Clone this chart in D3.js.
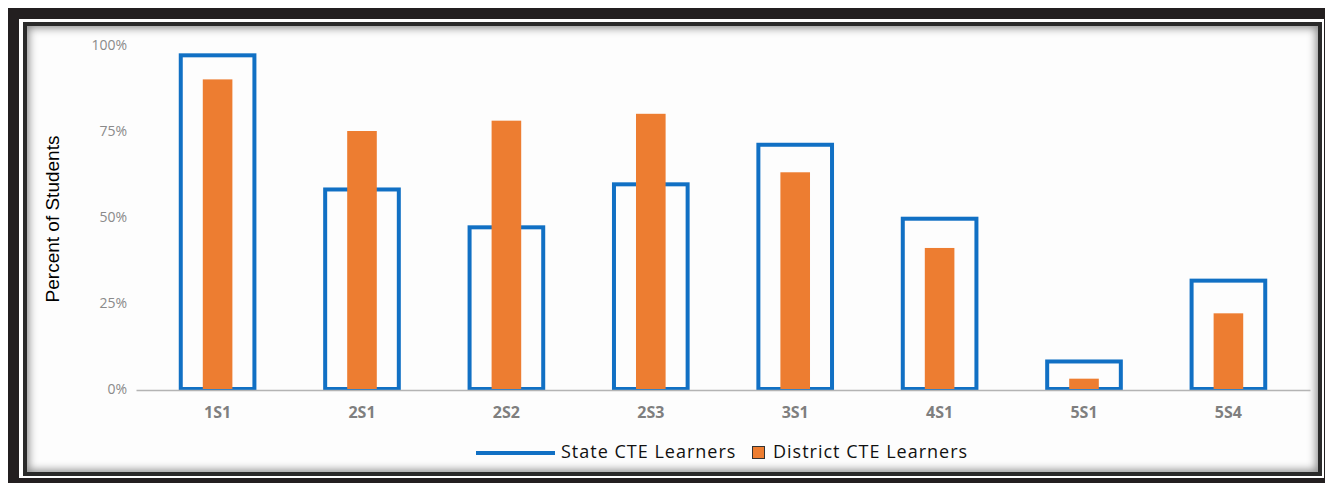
<!DOCTYPE html>
<html lang="en">
  <head>
    <meta charset="UTF-8" />
    <script src="https://cdn.jsdelivr.net/npm/d3@7"></script>
    <style>
      * {
        margin: 0;
        padding: 0;
      }
      body {
        width: 1325px;
        height: 483px;
        overflow: hidden;
        background: #fff;
        position: relative;
      }
      #outer {
        position: absolute;
        left: 8px;
        top: 8px;
        width: 1340px;
        height: 500px;
        background: #231f20;
      }
      #gap {
        position: absolute;
        left: 19px;
        top: 19px;
        width: 1305px;
        height: 459px;
        background: #fff;
      }
      #inner {
        position: absolute;
        left: 23px;
        top: 22px;
        width: 1291px;
        height: 446px;
        background: #fdfdfd;
        border: 4px solid #2a2a2a;
        box-shadow: inset 0 0 9px 2px rgba(0, 0, 0, 0.45);
      }
      #chart {
        position: absolute;
        left: 0;
        top: 0;
      }
    </style>
    <title>Percent of Students</title>
  </head>
  <body>
    <div id="outer"></div>
    <div id="gap"></div>
    <div id="inner"></div>
    <div id="chart"></div>
  </body>
  <script>
    const categories = ['1S1', '2S1', '2S2', '2S3', '3S1', '4S1', '5S1', '5S4'];
    const stateValues = [97, 58, 47, 59.5, 71, 49.5, 8, 31.5];
    const districtValues = [90, 75, 78, 80, 63, 41, 3, 22];
    const yTicks = [0, 25, 50, 75, 100];
    const seriesNames = ['State CTE Learners', 'District CTE Learners'];

    const width = 1325;
    const height = 483;
    const blue = '#1170c4';
    const orange = '#ed7d31';

    const svg = d3
      .select('#chart')
      .append('svg')
      .attr('width', width)
      .attr('height', height);

    const x = d3
      .scaleBand()
      .domain(categories)
      .range([136, 1310])
      .paddingInner(0)
      .paddingOuter(0.065);

    const y = d3.scaleLinear().domain([0, 100]).range([389, 45]);

    // y ticks
    svg
      .append('g')
      .attr('transform', 'translate(127,0)')
      .call(
        d3
          .axisLeft(y)
          .tickValues(yTicks)
          .tickSize(0)
          .tickPadding(0)
          .tickFormat((d) => d + '%')
      )
      .call((g) => g.select('.domain').remove())
      .call((g) =>
        g
          .selectAll('text')
          .attr('font-family', 'Open Sans')
          .attr('font-size', 14)
          .attr('fill', '#8a8a8a')
      );

    // y title
    svg
      .append('text')
      .text('Percent of Students')
      .attr('transform', 'translate(59,219) rotate(-90)')
      .attr('text-anchor', 'middle')
      .attr('font-family', 'Liberation Sans')
      .attr('font-size', 19)
      .attr('fill', '#000');

    // state bars (outlined)
    const sw = x.bandwidth() * 0.51;
    svg
      .append('g')
      .selectAll('rect')
      .data(categories)
      .join('rect')
      .attr('x', (d) => x(d) + (x.bandwidth() - sw) / 2)
      .attr('y', (d, i) => y(stateValues[i]))
      .attr('width', sw)
      .attr('height', (d, i) => y(0) - y(stateValues[i]))
      .attr('fill', 'none')
      .attr('stroke', blue)
      .attr('stroke-width', 4);

    // district bars
    const dw = x.bandwidth() * 0.205;
    svg
      .append('g')
      .selectAll('rect')
      .data(categories)
      .join('rect')
      .attr('x', (d) => x(d) + (x.bandwidth() - dw) / 2)
      .attr('y', (d, i) => y(districtValues[i]))
      .attr('width', dw)
      .attr('height', (d, i) => y(0) - y(districtValues[i]))
      .attr('fill', orange);

    // x axis
    svg
      .append('g')
      .attr('transform', 'translate(0,390)')
      .call(d3.axisBottom(x).tickSize(0).tickSizeOuter(0).tickPadding(17))
      .call((g) =>
        g.select('.domain').attr('stroke', '#b4b4b4').attr('stroke-width', 1.5)
      )
      .call((g) =>
        g
          .selectAll('text')
          .attr('font-family', 'Open Sans')
          .attr('font-weight', 'bold')
          .attr('font-size', 16)
          .attr('fill', '#7f7f7f')
      );

    // legend
    const legend = svg.append('g').attr('font-family', 'Open Sans').attr('font-size', 18);
    legend
      .append('line')
      .attr('x1', 476)
      .attr('x2', 555)
      .attr('y1', 453)
      .attr('y2', 453)
      .attr('stroke', blue)
      .attr('stroke-width', 4);
    legend
      .append('text')
      .text(seriesNames[0])
      .attr('x', 561)
      .attr('y', 458)
      .attr('letter-spacing', 1)
      .attr('fill', '#111');
    legend
      .append('rect')
      .attr('x', 752.5)
      .attr('y', 446.5)
      .attr('width', 12)
      .attr('height', 12)
      .attr('fill', orange)
      .attr('stroke', '#333')
      .attr('stroke-width', 1);
    legend
      .append('text')
      .text(seriesNames[1])
      .attr('x', 773)
      .attr('y', 458)
      .attr('letter-spacing', 1)
      .attr('fill', '#111');
  </script>
</html>
